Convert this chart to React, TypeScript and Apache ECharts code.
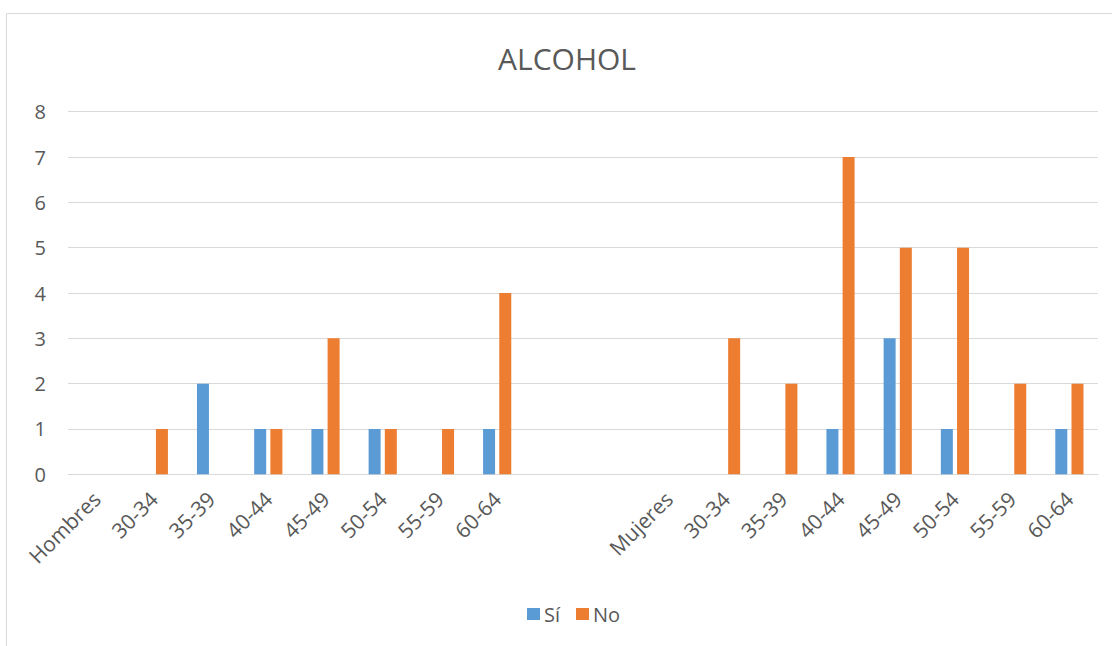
import React, { useEffect, useRef } from "react";
import * as echarts from "echarts";

const categories = [
  "Hombres", "30-34", "35-39", "40-44", "45-49", "50-54", "55-59", "60-64",
  "", "",
  "Mujeres", "30-34", "35-39", "40-44", "45-49", "50-54", "55-59", "60-64",
];
const siValues = [null, 0, 2, 1, 1, 1, 0, 1, null, null, null, 0, 0, 1, 3, 1, 0, 1];
const noValues = [null, 1, 0, 1, 3, 1, 1, 4, null, null, null, 3, 2, 7, 5, 5, 2, 2];
const yTicks = [0, 1, 2, 3, 4, 5, 6, 7, 8];
const titleText = "ALCOHOL";
const seriesNames = ["Sí", "No"];

const FONT = "'Open Sans', 'Noto Sans', sans-serif";
const TEXT = "#595959";

export default function App() {
  const ref = useRef<HTMLDivElement>(null);
  useEffect(() => {
    if (!ref.current) return;
    const chart = echarts.init(ref.current, null, { renderer: "svg" });
    chart.setOption({
      animation: false,
      backgroundColor: "#ffffff",
      textStyle: { fontFamily: FONT, color: TEXT },
      graphic: [
        {
          type: "rect",
          shape: { x: 6.5, y: 13.5, width: 1200, height: 700 },
          style: { fill: "none", stroke: "#D9D9D9", lineWidth: 1 },
          silent: true,
        },
        {
          type: "text",
          x: 567,
          y: 58,
          style: {
            text: titleText,
            fill: TEXT,
            font: `30px ${FONT}`,
            textAlign: "center",
            textVerticalAlign: "middle",
          },
        },
      ],
      legend: {
        left: 522,
        top: 599,
        itemWidth: 13,
        itemHeight: 12,
        itemGap: 16,
        icon: "rect",
        data: seriesNames,
        textStyle: { fontFamily: FONT, fontSize: 20, color: TEXT, padding: [0, 0, 0, -1] },
      },
      grid: { left: 68, right: 14, top: 111.7, bottom: 171.7, containLabel: false },
      xAxis: {
        type: "category",
        data: categories,
        axisTick: { show: false },
        axisLine: { show: true, lineStyle: { color: "#D9D9D9", width: 1 } },
        axisLabel: {
          interval: 0,
          rotate: 45,
          margin: 21,
          fontFamily: FONT,
          fontSize: 21,
          color: TEXT,
        },
      },
      yAxis: {
        type: "value",
        min: yTicks[0],
        max: yTicks[yTicks.length - 1],
        interval: 1,
        axisLine: { show: false },
        axisTick: { show: false },
        splitLine: { lineStyle: { color: "#D9D9D9", width: 1 } },
        axisLabel: { margin: 22, fontFamily: FONT, fontSize: 20, color: TEXT },
      },
      series: [
        {
          name: seriesNames[0],
          type: "bar",
          data: siValues,
          barWidth: 12,
          barGap: "35%",
          itemStyle: { color: "#5B9BD5" },
        },
        {
          name: seriesNames[1],
          type: "bar",
          data: noValues,
          barWidth: 12,
          barGap: "35%",
          itemStyle: { color: "#ED7D31" },
        },
      ],
    });
    return () => chart.dispose();
  }, []);
  return (
    <div
      ref={ref}
      style={{ position: "absolute", left: 0, top: 0, width: 1112, height: 646 }}
    />
  );
}
